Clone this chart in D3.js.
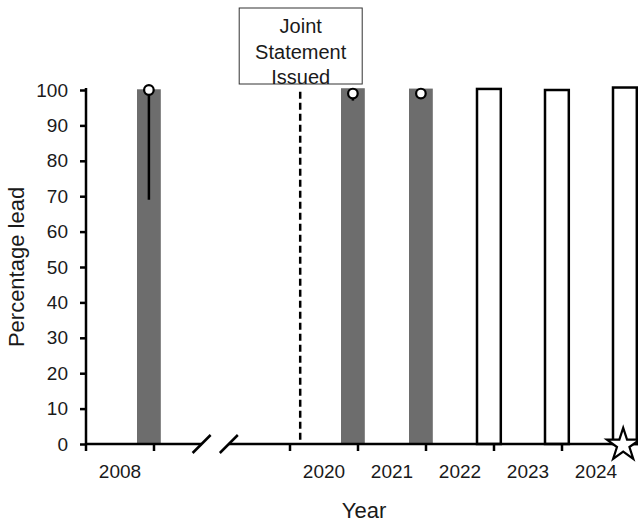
<!DOCTYPE html>
<html lang="en">
<head>
  <meta charset="UTF-8">
  <title>Percentage lead by year</title>
  <script src="https://d3js.org/d3.v7.min.js"></script>
  <style>
    body { margin: 0; background: #fff; }
    text { font-family: "Liberation Sans", Arial, sans-serif; fill: #1a1a1a; }
  </style>
</head>
<body>
  <div id="chart"></div>
  <script>
    // data
    const years = ["2008", "2020", "2021", "2022", "2023", "2024"];
    const barValues = [100.2, 100.5, 100.4, 100.3, 100.0, 100.7];
    const barKind = ["measured", "measured", "measured", "open", "open", "open"];
    const pointValues = [100, 99, 99, null, null, null];
    const pointLow = [69, 97, 99, null, null, null];
    const starYear = "2024";
    const starValue = 0;
    const yTicks = [0, 10, 20, 30, 40, 50, 60, 70, 80, 90, 100];
    const breakSlots = ["gap1", "gap2"];
    const eventAfter = "2020"; // dashed line sits just before 2020 bars
    const eventLabel = ["Joint", "Statement", "Issued"];

    const width = 638, height = 524;
    const margin = { top: 90, right: 8, bottom: 80, left: 86 };

    const svg = d3.select("#chart").append("svg")
      .attr("width", width)
      .attr("height", height);

    const slots = [years[0], ...breakSlots, ...years.slice(1)];
    const x = d3.scaleBand()
      .domain(slots)
      .range([margin.left, margin.left + 68 * slots.length])
      .padding(0);
    const bw = x.bandwidth();

    const y = d3.scaleLinear()
      .domain([0, 100])
      .range([height - margin.bottom, margin.top]);

    const y0 = y(0);

    // bars
    svg.selectAll("rect.bar")
      .data(years)
      .enter()
      .append("rect")
      .attr("class", "bar")
      .attr("x", d => x(d) + bw * 0.75)
      .attr("width", bw * 0.35)
      .attr("y", (d, i) => y(barValues[i]))
      .attr("height", (d, i) => y0 - y(barValues[i]))
      .attr("fill", (d, i) => barKind[i] === "measured" ? "#6d6d6d" : "#fff")
      .attr("stroke", (d, i) => barKind[i] === "measured" ? "none" : "#000")
      .attr("stroke-width", 2.5);

    // dashed event line
    const evX = x(eventAfter) + bw * 0.15;
    svg.append("line")
      .attr("x1", evX).attr("x2", evX)
      .attr("y1", y(99.5)).attr("y2", y0)
      .attr("stroke", "#000")
      .attr("stroke-width", 2.5)
      .attr("stroke-dasharray", "7,4");

    // y axis
    const yAxis = d3.axisLeft(y).tickValues(yTicks).tickSize(6).tickPadding(12);
    const gy = svg.append("g")
      .attr("transform", `translate(${margin.left},0)`)
      .call(yAxis);
    gy.select(".domain").attr("stroke", "#000").attr("stroke-width", 2.5)
      .attr("d", `M0,${y0}V${y(100) - 2}`);
    gy.selectAll(".tick line").attr("stroke", "#000").attr("stroke-width", 2.5);
    gy.selectAll(".tick text")
      .style("font-size", "19px")
      .style("font-family", "Liberation Sans, Arial, sans-serif")
      .attr("fill", "#1a1a1a");

    // x axis: two segments with break marks
    const breakStart = x(breakSlots[0]) + bw * 0.7;
    const breakEnd = x(breakSlots[1]) + bw * 0.1;
    const gx = svg.append("g");
    gx.append("line")
      .attr("x1", margin.left - 1).attr("x2", breakStart)
      .attr("y1", y0).attr("y2", y0)
      .attr("stroke", "#000").attr("stroke-width", 2.5);
    gx.append("line")
      .attr("x1", breakEnd).attr("x2", width)
      .attr("y1", y0).attr("y2", y0)
      .attr("stroke", "#000").attr("stroke-width", 2.5);
    [breakStart, breakEnd].forEach(bx => {
      gx.append("line")
        .attr("x1", bx - 9).attr("y1", y0 + 9)
        .attr("x2", bx + 9).attr("y2", y0 - 9)
        .attr("stroke", "#000").attr("stroke-width", 2.5);
    });

    // tick marks at category boundaries
    const tickPos = [x(years[0]), x(years[0]) + bw, ...years.slice(1, -1).map(d => x(d)), ...years.slice(1, -1).map(d => x(d) + bw)];
    gx.selectAll("line.tk")
      .data(Array.from(new Set(tickPos)))
      .enter()
      .append("line")
      .attr("class", "tk")
      .attr("x1", d => d).attr("x2", d => d)
      .attr("y1", y0).attr("y2", y0 + 7)
      .attr("stroke", "#000").attr("stroke-width", 2.5);

    gx.selectAll("text.yr")
      .data(years)
      .enter()
      .append("text")
      .attr("class", "yr")
      .attr("x", d => x(d) + bw / 2)
      .attr("y", y0 + 34)
      .attr("text-anchor", "middle")
      .style("font-size", "19px")
      .text(d => d);

    // error bars and points
    const pts = years.map((d, i) => ({ year: d, v: pointValues[i], lo: pointLow[i] }))
      .filter(d => d.v !== null);
    svg.selectAll("line.err")
      .data(pts)
      .enter()
      .append("line")
      .attr("class", "err")
      .attr("x1", d => x(d.year) + bw * 0.925)
      .attr("x2", d => x(d.year) + bw * 0.925)
      .attr("y1", d => y(d.v))
      .attr("y2", d => y(d.lo))
      .attr("stroke", "#000")
      .attr("stroke-width", 2.5);
    svg.selectAll("circle.pt")
      .data(pts)
      .enter()
      .append("circle")
      .attr("class", "pt")
      .attr("cx", d => x(d.year) + bw * 0.925)
      .attr("cy", d => y(d.v))
      .attr("r", 4.8)
      .attr("fill", "#fff")
      .attr("stroke", "#000")
      .attr("stroke-width", 2.2);

    // star marker
    svg.append("path")
      .attr("d", d3.symbol().type(d3.symbolStar).size(330)())
      .attr("transform", `translate(${x(starYear) + bw * 0.9},${y(starValue) + 1})`)
      .attr("fill", "#fff")
      .attr("stroke", "#000")
      .attr("stroke-width", 2.2);

    // annotation box
    const boxW = 123, boxH = 76;
    const ann = svg.append("g")
      .attr("transform", `translate(${evX - boxW / 2 + 0.5},8)`);
    ann.append("rect")
      .attr("width", boxW).attr("height", boxH)
      .attr("fill", "#fff")
      .attr("stroke", "#333").attr("stroke-width", 1);
    ann.selectAll("text")
      .data(eventLabel)
      .enter()
      .append("text")
      .attr("x", boxW / 2)
      .attr("y", (d, i) => 25 + i * 25.5)
      .attr("text-anchor", "middle")
      .style("font-size", "20px")
      .text(d => d);

    // axis titles
    svg.append("text")
      .attr("transform", `translate(24,${(y0 + y(100)) / 2}) rotate(-90)`)
      .attr("text-anchor", "middle")
      .style("font-size", "22px")
      .text("Percentage lead");
    svg.append("text")
      .attr("x", 364)
      .attr("y", 518)
      .attr("text-anchor", "middle")
      .style("font-size", "22px")
      .text("Year");
  </script>
</body>
</html>
